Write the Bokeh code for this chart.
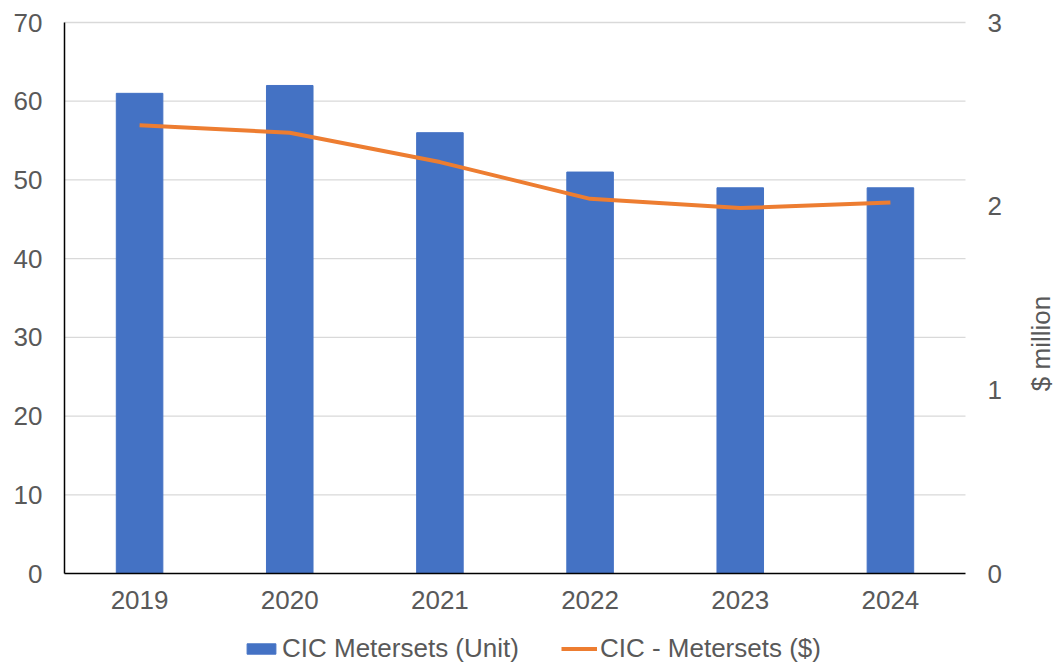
import math
from bokeh.plotting import figure
from bokeh.models import (ColumnDataSource, Range1d, LinearAxis, FixedTicker,
                          Legend, LegendItem, Label)
from bokeh.embed import file_html
from bokeh.resources import INLINE

years = ["2019", "2020", "2021", "2022", "2023", "2024"]
units = [61, 62, 56, 51, 49, 49]
dollars_m = [2.44, 2.40, 2.24, 2.04, 1.99, 2.02]
unit_ticks = [0, 10, 20, 30, 40, 50, 60, 70]
million_ticks = [0, 1, 2, 3]

# category slots sit at 0.5, 1.5, ... on a numeric x scale
xpos = [i + 0.5 for i in range(len(years))]
src = ColumnDataSource(dict(x=xpos, units=units, dollars=dollars_m))

FONT = "Liberation Sans"
TXT = "#595959"
FS = "26px"

# the frame fills the canvas; axes are pinned inside it
W, H = 1061, 664
L, R, T, B = 64, 965, 22, 573
n = len(years)
pxx = (R - L) / n
pxy = (B - T) / 70
pxm = (B - T) / 3

p = figure(width=W, height=H, output_backend="svg", toolbar_location=None,
           x_axis_type=None, y_axis_type=None,
           x_range=Range1d(-L / pxx, n + (W - R) / pxx),
           y_range=Range1d(-(H - B) / pxy, 70 + T / pxy),
           min_border=0, outline_line_color=None)
p.extra_y_ranges = {"m": Range1d(-(H - B) / pxm, 3 + T / pxm)}
p.xgrid.visible = False
p.ygrid.visible = False

# horizontal gridlines across the plotting area
p.segment(x0=0, x1=n, y0=unit_ticks[1:], y1=unit_ticks[1:],
          line_color="#D9D9D9", line_width=1.3)

bars = p.vbar(x="x", top="units", width=0.31, source=src,
              fill_color="#4472C4", line_color="#4472C4")
line = p.line(x="x", y="dollars", source=src, y_range_name="m",
              line_color="#ED7D31", line_width=4)


def style_axis(ax, standoff):
    ax.major_tick_line_color = None
    ax.minor_tick_line_color = None
    ax.major_tick_out = 0
    ax.major_tick_in = 0
    ax.minor_tick_out = 0
    ax.minor_tick_in = 0
    ax.major_label_standoff = standoff
    ax.major_label_text_font = FONT
    ax.major_label_text_font_size = FS
    ax.major_label_text_color = TXT


ya = LinearAxis(ticker=FixedTicker(ticks=unit_ticks), fixed_location=0,
                bounds=(0, 70), axis_line_color="black", axis_line_width=1.5)
style_axis(ya, 22)
p.add_layout(ya, "left")

xa = LinearAxis(ticker=FixedTicker(ticks=xpos), fixed_location=0,
                bounds=(0, n), axis_line_color="black", axis_line_width=1.5,
                major_label_overrides={x: y for x, y in zip(xpos, years)})
style_axis(xa, 17)
p.add_layout(xa, "below")

ra = LinearAxis(y_range_name="m", ticker=FixedTicker(ticks=million_ticks),
                fixed_location=n, bounds=(0, 3), axis_line_color=None)
style_axis(ra, 22)
p.add_layout(ra, "right")

p.add_layout(Label(x=1040, y=H - 343, x_units="screen", y_units="screen",
                   text="$ million", angle=math.pi / 2,
                   text_align="center", text_baseline="middle",
                   text_font=FONT, text_font_size=FS, text_color=TXT))

legend = Legend(items=[LegendItem(label="CIC Metersets (Unit)", renderers=[bars]),
                       LegendItem(label="CIC - Metersets ($)", renderers=[line])],
                orientation="horizontal", location=(243, 0),
                border_line_color=None, background_fill_alpha=0,
                label_text_font=FONT, label_text_font_size=FS,
                label_text_color=TXT, glyph_width=36, glyph_height=13,
                spacing=42, label_standoff=3, margin=0, padding=0)
p.add_layout(legend, "center")

open("out.html", "w").write(file_html(p, INLINE))
